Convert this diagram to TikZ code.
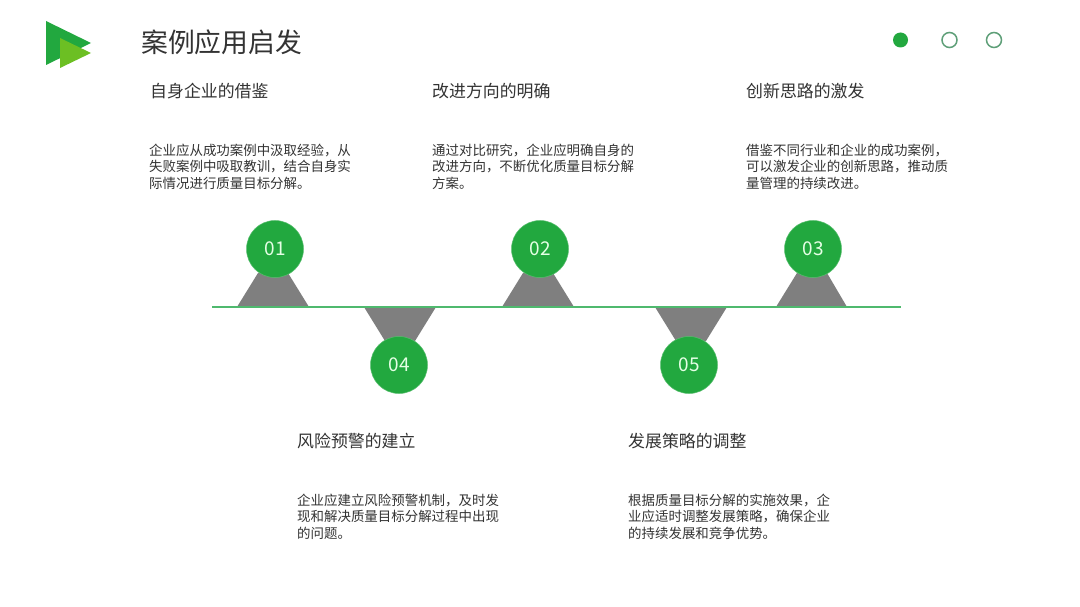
\documentclass[tikz,border=0pt]{standalone}
\usepackage{fontspec}
\setmainfont{Noto Sans CJK SC}
\definecolor{brandgreen}{HTML}{22A83F}
\definecolor{limegreen}{HTML}{6CBF23}
\definecolor{axisgreen}{HTML}{4FB96E}
\definecolor{ringgreen}{HTML}{5E9F78}
\definecolor{wedgegray}{HTML}{7F7F7F}
\definecolor{inktext}{HTML}{333333}
\tikzset{
  titletext/.style={anchor=west,inner sep=0pt,text=inktext,font=\fontsize{26.8}{30}\selectfont},
  headtext/.style={anchor=west,inner sep=0pt,text=inktext,font=\fontsize{16.9}{20}\selectfont},
  bodytext/.style={anchor=north west,inner sep=0pt,align=left,text=inktext,font=\fontsize{13.45}{16.8}\selectfont},
  badge/.style={circle,fill=brandgreen,draw=brandgreen!75!white,line width=0.5pt,minimum size=57pt,inner sep=0pt,text=white!90!green,font=\fontsize{19}{24}\selectfont},
  wedge/.style={fill=wedgegray,draw=none},
  axisline/.style={draw=axisgreen,line width=1.6pt},
  dotfull/.style={circle,fill=brandgreen,minimum size=15pt,inner sep=0pt},
  dotopen/.style={circle,draw=ringgreen,line width=1.5pt,minimum size=15pt,inner sep=0pt},
}
\begin{document}
\begin{tikzpicture}[x=1pt,y=-1pt]
\useasboundingbox (0,0) rectangle (1080,607);
\fill[white] (0,0) rectangle (1080,607);
% logo
\fill[brandgreen] (46,21) -- (91,43) -- (46,65) -- cycle;
\fill[limegreen] (60,38) -- (91,53) -- (60,68) -- cycle;
% title
\node[titletext] (title) at (141,42) {案例应用启发};
% pager dots
\node[dotfull] (dotA) at (900.5,40) {};
\node[dotopen] (dotB) at (949.5,40) {};
\node[dotopen] (dotC) at (994,40) {};
% wedges
\fill[wedge] (237,307) -- (258,273) -- (288,273) -- (309,307) -- cycle;
\fill[wedge] (502,307) -- (523,273) -- (553,273) -- (574,307) -- cycle;
\fill[wedge] (776,307) -- (797,273) -- (827,273) -- (847,307) -- cycle;
\fill[wedge] (364,307) -- (385,341) -- (415,341) -- (436,307) -- cycle;
\fill[wedge] (655,307) -- (676,341) -- (706,341) -- (727,307) -- cycle;
% axis
\coordinate (axisL) at (212,307);
\coordinate (axisR) at (901,307);
\draw[axisline] (axisL) -- (axisR);
% badges
\node[badge] (n1) at (275,249) {01};
\node[badge] (n2) at (540,249) {02};
\node[badge] (n3) at (813,249) {03};
\node[badge] (n4) at (399,365) {04};
\node[badge] (n5) at (689,365) {05};
% texts
\node[headtext] (h1) at (150,91) {自身企业的借鉴};
\node[bodytext] (b1) at (149,143.5) {企业应从成功案例中汲取经验，从\\失败案例中吸取教训，结合自身实\\际情况进行质量目标分解。};
\node[headtext] (h2) at (432,91) {改进方向的明确};
\node[bodytext] (b2) at (432,143.5) {通过对比研究，企业应明确自身的\\改进方向，不断优化质量目标分解\\方案。};
\node[headtext] (h3) at (746,91) {创新思路的激发};
\node[bodytext] (b3) at (746,143.5) {借鉴不同行业和企业的成功案例，\\可以激发企业的创新思路，推动质\\量管理的持续改进。};
\node[headtext] (h4) at (297,441) {风险预警的建立};
\node[bodytext] (b4) at (297,493.5) {企业应建立风险预警机制，及时发\\现和解决质量目标分解过程中出现\\的问题。};
\node[headtext] (h5) at (628,441) {发展策略的调整};
\node[bodytext] (b5) at (628,493.5) {根据质量目标分解的实施效果，企\\业应适时调整发展策略，确保企业\\的持续发展和竞争优势。};
\end{tikzpicture}
\end{document}
